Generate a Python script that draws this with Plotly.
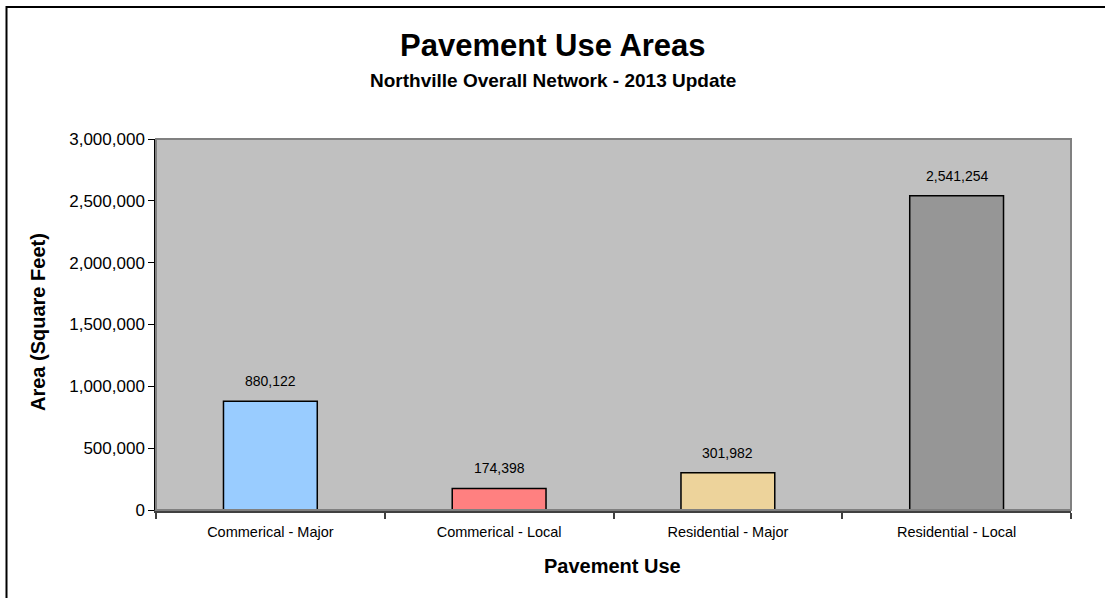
import plotly.graph_objects as go

# Pavement use categories and their areas (square feet)
categories = ["Commerical - Major", "Commerical - Local", "Residential - Major", "Residential - Local"]
areas = [880122, 174398, 301982, 2541254]
bar_colors = ["#99CCFF", "#FF8080", "#EDD39B", "#969696"]
y_ticks = [0, 500000, 1000000, 1500000, 2000000, 2500000, 3000000]

W, H = 1105, 598
L, R, T, B = 156, 34, 139, 88
PW, PH = W - L - R, H - T - B
FONT = "Liberation Sans, Arial, sans-serif"


def px_x(px):
    return (px - L) / PW


def px_y(py):
    return (H - B - py) / PH


fig = go.Figure()
fig.add_trace(go.Bar(
    x=categories,
    y=areas,
    marker=dict(color=bar_colors, line=dict(color="#000000", width=1.5)),
    hoverinfo="x+y",
))

annotations = []
for cat, val in zip(categories, areas):
    annotations.append(dict(
        x=cat, y=val, xref="x", yref="y", text=f"{val:,}", showarrow=False,
        yshift=20, font=dict(family=FONT, size=14, color="#000000"),
    ))

annotations += [
    dict(x=px_x(553), y=px_y(46), xref="paper", yref="paper", text="<b>Pavement Use Areas</b>",
         showarrow=False, font=dict(family=FONT, size=31, color="#000000"),
         xanchor="center", yanchor="middle"),
    dict(x=px_x(553), y=px_y(80), xref="paper", yref="paper",
         text="<b>Northville Overall Network - 2013 Update</b>",
         showarrow=False, font=dict(family=FONT, size=19, color="#000000"),
         xanchor="center", yanchor="middle"),
    dict(x=px_x(612), y=px_y(566), xref="paper", yref="paper", text="<b>Pavement Use</b>",
         showarrow=False, font=dict(family=FONT, size=20, color="#000000"),
         xanchor="center", yanchor="middle"),
    dict(x=px_x(38), y=px_y(322), xref="paper", yref="paper", text="<b>Area (Square Feet)</b>",
         showarrow=False, textangle=-90, font=dict(family=FONT, size=20, color="#000000"),
         xanchor="center", yanchor="middle"),
]

# chart frame: open path along the left and top edges
fx0, fx1 = px_x(6.5), px_x(1110)
fy_top, fy_bot = px_y(7), px_y(610)
frame_path = f"M {fx0},{fy_bot} L {fx0},{fy_top} L {fx1},{fy_top}"

shapes = [
    # plot area outline (top and right edges)
    dict(type="rect", xref="paper", yref="paper", x0=0, y0=0, x1=1, y1=1,
         line=dict(color="#808080", width=2), layer="above"),
    dict(type="path", xref="paper", yref="paper", path=frame_path,
         line=dict(color="#000000", width=2), fillcolor="rgba(0,0,0,0)"),
]

fig.update_layout(
    width=W, height=H,
    margin=dict(l=L, r=R, t=T, b=B),
    paper_bgcolor="#FFFFFF",
    plot_bgcolor="#C0C0C0",
    showlegend=False,
    bargap=0.59,
    annotations=annotations,
    shapes=shapes,
    font=dict(family=FONT, color="#000000"),
)

fig.update_xaxes(
    type="category",
    tickson="boundaries",
    ticks="outside", ticklen=6, tickcolor="#404040", tickwidth=1.5,
    showline=True, linecolor="#404040", linewidth=2.5,
    showgrid=False, zeroline=False,
    ticklabelstandoff=7,
    tickfont=dict(family=FONT, size=14.5, color="#000000"),
)

fig.update_yaxes(
    range=[0, 3000000],
    tickvals=y_ticks,
    ticktext=[f"{v:,}" for v in y_ticks],
    ticks="outside", ticklen=6, tickcolor="#000000", tickwidth=1.2,
    showline=True, linecolor="#000000", linewidth=1.5,
    showgrid=False, zeroline=False,
    tickfont=dict(family=FONT, size=17, color="#000000"),
)

fig.write_html("out.html")
